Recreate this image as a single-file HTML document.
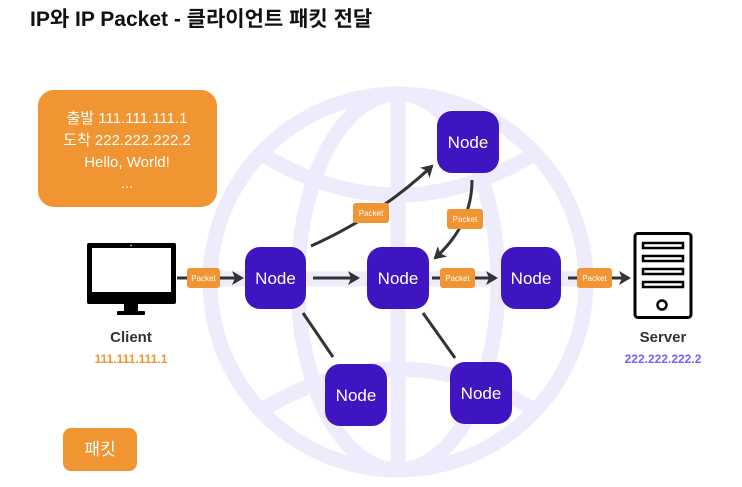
<!DOCTYPE html>
<html><head><meta charset="utf-8"><style>
html,body{margin:0;padding:0;background:#fff;}
body{width:742px;height:487px;overflow:hidden;position:relative;font-family:"Liberation Sans","Noto Sans CJK KR",sans-serif;}
</style></head><body>
<svg width="742" height="487" viewBox="0 0 742 487" xmlns="http://www.w3.org/2000/svg" style="position:absolute;left:0;top:0">
<defs>
<marker id="ah" markerWidth="14" markerHeight="14" refX="10" refY="7" orient="auto" markerUnits="userSpaceOnUse">
<path d="M0,0 L12,7 L0,14 L3,7 Z" fill="#333"/>
</marker>
<clipPath id="gc"><circle cx="398" cy="282" r="190"/></clipPath>
</defs>
<text x="30" y="26" font-family="Liberation Sans, Noto Sans CJK KR, sans-serif" font-weight="bold" font-size="21" fill="#111">IP와 IP Packet - 클라이언트 패킷 전달</text>

<g stroke="#eeebfd" stroke-width="15" fill="none">
<circle cx="398" cy="282" r="188"/>
<g clip-path="url(#gc)">
<ellipse cx="398" cy="282" rx="100" ry="188"/>
<line x1="398" y1="90" x2="398" y2="475"/>
<line x1="205" y1="279" x2="592" y2="279"/>
<path d="M240,140 Q398,250 556,140"/>
<path d="M240,424 Q398,314 556,424"/>
</g>
</g>

<rect x="38" y="90" width="179" height="117" rx="16" fill="#f09531"/>
<g fill="#fff" font-size="15" text-anchor="middle" font-family="Liberation Sans, Noto Sans CJK KR, sans-serif">
<text x="127" y="123">출발  111.111.111.1</text>
<text x="127" y="145">도착  222.222.222.2</text>
<text x="127" y="167">Hello, World!</text>
<text x="127" y="188">...</text>
</g>

<g stroke="#333" stroke-width="3" fill="none">
<line x1="177" y1="278" x2="242" y2="278" marker-end="url(#ah)"/>
<line x1="313" y1="278" x2="358" y2="278" marker-end="url(#ah)"/>
<line x1="432" y1="278" x2="496" y2="278" marker-end="url(#ah)"/>
<line x1="568" y1="278" x2="629" y2="278" marker-end="url(#ah)"/>
<path d="M311,246 Q380,215 432,166" marker-end="url(#ah)"/>
<path d="M472,180 Q472,225 435,258" marker-end="url(#ah)"/>
<line x1="303" y1="313" x2="333" y2="357"/>
<line x1="423" y1="313" x2="455" y2="358"/>
</g>

<g font-size="8" fill="#fff" text-anchor="middle" font-family="Liberation Sans, sans-serif">
<rect x="187" y="268" width="33" height="20" rx="3" fill="#f09531"/><text x="203.5" y="281">Packet</text>
<rect x="440" y="268" width="35" height="20" rx="3" fill="#f09531"/><text x="457.5" y="281">Packet</text>
<rect x="577" y="268" width="35" height="20" rx="3" fill="#f09531"/><text x="594.5" y="281">Packet</text>
<rect x="353" y="203" width="36" height="20" rx="3" fill="#f09531"/><text x="371" y="216">Packet</text>
<rect x="447" y="209" width="36" height="20" rx="3" fill="#f09531"/><text x="465" y="222">Packet</text>
</g>

<g fill="#3f15c2">
<rect x="245" y="247" width="61" height="62" rx="15"/>
<rect x="367" y="247" width="62" height="62" rx="15"/>
<rect x="501" y="247" width="60" height="62" rx="15"/>
<rect x="437" y="111" width="62" height="62" rx="15"/>
<rect x="325" y="364" width="62" height="62" rx="15"/>
<rect x="450" y="362" width="62" height="62" rx="15"/>
</g>
<g fill="#fff" font-size="17" text-anchor="middle" font-family="Liberation Sans, sans-serif">
<text x="275.5" y="284">Node</text>
<text x="398" y="284">Node</text>
<text x="531" y="284">Node</text>
<text x="468" y="148">Node</text>
<text x="356" y="401">Node</text>
<text x="481" y="399">Node</text>
</g>

<rect x="87" y="243" width="89" height="61" rx="2" fill="#000"/>
<rect x="92" y="248" width="79" height="44" fill="#fff"/>
<circle cx="131" cy="245.5" r="0.8" fill="#fff"/>
<rect x="124" y="304" width="14" height="8" fill="#000"/>
<rect x="117" y="311" width="28" height="4" rx="1" fill="#000"/>
<text x="131" y="342" text-anchor="middle" font-weight="bold" font-size="15" fill="#333">Client</text>
<text x="131" y="363" text-anchor="middle" font-weight="bold" font-size="12" fill="#f09531">111.111.111.1</text>

<rect x="635" y="233.5" width="56" height="84" rx="3" fill="#fff" stroke="#000" stroke-width="3"/>
<g fill="none" stroke="#000" stroke-width="2.5">
<rect x="643" y="243" width="40" height="5"/>
<rect x="643" y="256" width="40" height="5"/>
<rect x="643" y="269" width="40" height="5"/>
<rect x="643" y="282" width="40" height="5"/>
<circle cx="662" cy="305" r="4.5"/>
</g>
<text x="663" y="342" text-anchor="middle" font-weight="bold" font-size="15" fill="#333">Server</text>
<text x="663" y="363" text-anchor="middle" font-weight="bold" font-size="12" fill="#7b5cff">222.222.222.2</text>

<rect x="63" y="428" width="74" height="43" rx="8" fill="#f09531"/>
<text x="100" y="455" text-anchor="middle" font-size="17" fill="#fff" font-family="Liberation Sans, Noto Sans CJK KR, sans-serif">패킷</text>
</svg>
</body></html>
